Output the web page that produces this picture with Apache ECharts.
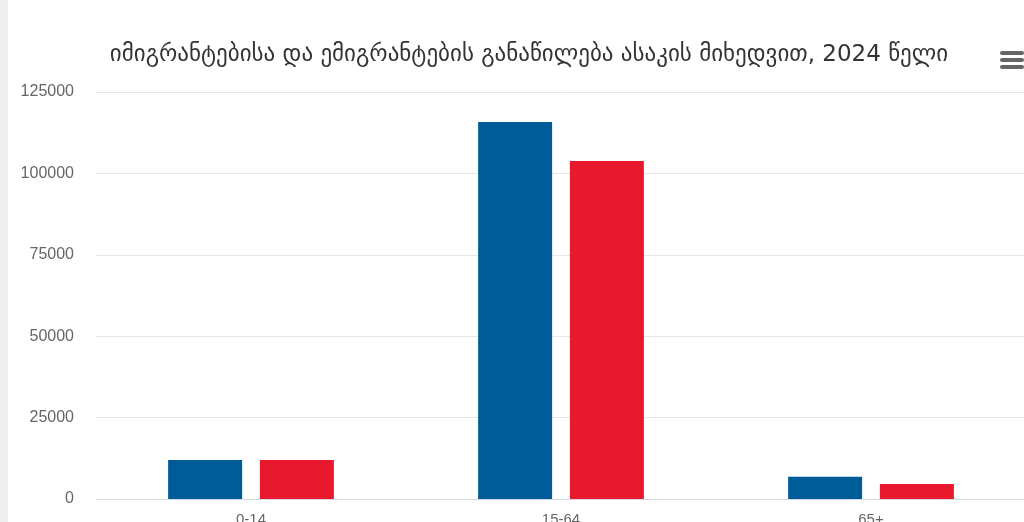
<!DOCTYPE html>
<html>
<head>
<meta charset="utf-8">
<script src="https://cdn.jsdelivr.net/npm/echarts@6/dist/echarts.min.js"></script>
<style>
  html, body { margin: 0; padding: 0; background: #fff; }
  #chart { width: 1024px; height: 522px; }
</style>
</head>
<body>
<div id="chart"></div>
<script>
const titleText = "იმიგრანტებისა და ემიგრანტების განაწილება ასაკის მიხედვით, 2024 წელი";
const categories = ["0-14", "15-64", "65+"];
const immigrants = [12000, 115800, 6800];
const emigrants = [12000, 103800, 4600];
const yTicks = { min: 0, max: 125000, interval: 25000 };

const chart = echarts.init(document.getElementById("chart"));

const option = {
  animation: false,
  title: {
    text: titleText,
    left: 524,
    top: 39,
    textAlign: "center",
    textStyle: {
      fontFamily: "DejaVu Sans",
      fontSize: 23,
      fontWeight: "normal",
      color: "#333333"
    }
  },
  grid: {
    left: 96,
    top: 92,
    width: 930,
    height: 407,
    outerBoundsMode: "none"
  },
  xAxis: {
    type: "category",
    data: categories,
    axisLine: { lineStyle: { color: "#d3d8e0", width: 1 } },
    axisTick: { show: false },
    axisLabel: {
      color: "#666666",
      fontSize: 15,
      fontFamily: "Liberation Sans",
      margin: 13
    }
  },
  yAxis: {
    type: "value",
    min: yTicks.min,
    max: yTicks.max,
    interval: yTicks.interval,
    axisLine: { show: false },
    axisTick: { show: false },
    splitLine: { lineStyle: { color: "#e6e6e6", width: 1 } },
    axisLabel: {
      color: "#666666",
      fontSize: 16,
      fontFamily: "Liberation Sans",
      margin: 22,
      formatter: (v) => String(v)
    }
  },
  series: [
    {
      name: "იმიგრანტები",
      type: "bar",
      data: immigrants,
      barWidth: 74,
      barGap: "24%",
      itemStyle: { color: "#005c96" }
    },
    {
      name: "ემიგრანტები",
      type: "bar",
      data: emigrants,
      barWidth: 74,
      itemStyle: { color: "#e8192e" }
    }
  ],
  graphic: [
    {
      type: "rect",
      left: 0,
      top: 0,
      shape: { width: 8, height: 522 },
      style: { fill: "#eeeeee" }
    },
    {
      type: "group",
      left: 1000,
      top: 51,
      children: [
        { type: "rect", shape: { x: 0, y: 0, width: 24, height: 4, r: 2 }, style: { fill: "#666666" } },
        { type: "rect", shape: { x: 0, y: 7, width: 24, height: 4, r: 2 }, style: { fill: "#666666" } },
        { type: "rect", shape: { x: 0, y: 14, width: 24, height: 4, r: 2 }, style: { fill: "#666666" } }
      ]
    }
  ]
};

chart.setOption(option);
</script>
</body>
</html>
